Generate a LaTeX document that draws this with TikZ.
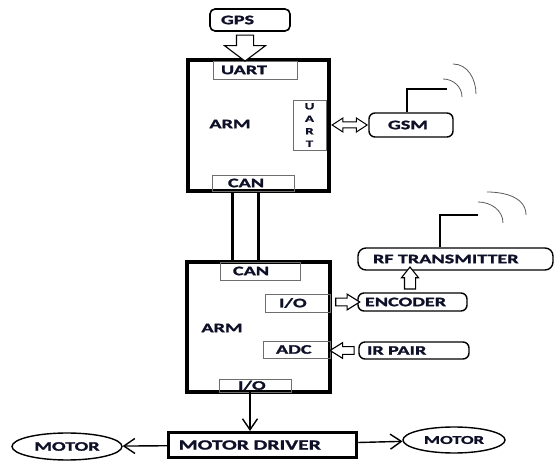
\documentclass[tikz,border=0pt]{standalone}
\usepackage{fontspec}
\setmainfont{Carlito}[FakeStretch=1.55,FakeBold=1.6]
\usetikzlibrary{arrows.meta,positioning,calc,shapes.geometric,shapes.arrows}
\definecolor{ArmInk}{RGB}{14,16,40}
\definecolor{PortGray}{RGB}{110,110,110}
\definecolor{WaveGray}{RGB}{90,90,90}

\begin{document}
\begin{tikzpicture}[x=1pt,y=-1pt,
  every node/.style={font=\fontsize{13}{15}\selectfont\bfseries,text=ArmInk},
  arm/.style={draw,line width=4pt,minimum width=141pt,minimum height=131pt},
  port/.style={draw=PortGray,line width=0.7pt,align=left,inner ysep=0pt},
  unit/.style={draw,line width=1.4pt,rounded corners=6pt,align=left,inner ysep=0pt},
  motor/.style={draw,ellipse,line width=1.4pt,inner sep=0pt},
  hollow/.style={draw,line width=1.1pt,fill=white,inner xsep=0pt},
  arrow/.style={-{Straight Barb[length=11pt,width=15pt]},line width=1.4pt},
  bus/.style={line width=3pt},
  ant/.style={line width=2pt},
  wave/.style={draw=WaveGray,line width=0.8pt}
]
\useasboundingbox (0,0) rectangle (555,462);
% upper controller
\node[arm] (arm1) at (258.5,125.5) {};
\node (arm1lbl) at (230,124) {ARM};
\node[port,minimum height=18pt,text width=68pt,inner xsep=8pt] (uart1) at (255,70) {UART};
\node[port,minimum height=16pt,text width=50pt,inner xsep=16pt] (can1) at (253,183) {CAN};
\node[port,align=center,minimum height=50pt,text width=33pt,inner xsep=0pt,
      font=\fontsize{9.5}{12.5}\selectfont\bfseries] (uart2) at (309.5,125) {U\\A\\R\\T};
\node[unit,minimum height=22pt,text width=58pt,inner xsep=11pt,line width=1.6pt,rounded corners=5pt] (gps) at (250,20) {GPS};
\node[unit,minimum height=24pt,text width=46pt,inner xsep=19pt] (gsm) at (411,125) {GSM};
% lower controller
\node[arm,minimum width=143pt,minimum height=130pt] (arm2) at (258.5,327) {};
\node (arm2lbl) at (222,328) {ARM};
\node[port,minimum height=18pt,text width=54pt,inner xsep=13pt] (can2) at (260,271) {CAN};
\node[port,minimum height=18pt,text width=37pt,inner xsep=14pt] (io1) at (297.5,303) {I/O};
\node[port,minimum height=17pt,text width=41pt,inner xsep=13pt] (adc) at (296.5,349.5) {ADC};
\node[port,minimum height=13pt,text width=34pt,inner xsep=19pt] (io2) at (255,385.5) {I/O};
\node[unit,minimum height=22pt,text width=165pt,inner xsep=15pt,rounded corners=8pt] (rf) at (455.5,259) {RF TRANSMITTER};
\node[unit,minimum height=18pt,text width=95pt,inner xsep=7pt] (encoder) at (412.5,302) {ENCODER};
\node[unit,minimum height=17pt,text width=94pt,inner xsep=8pt] (irpair) at (414,350.5) {IR PAIR};
% drive stage
\node[draw,line width=3pt,minimum height=25pt,text width=168pt,inner xsep=10pt,align=left,inner ysep=0pt,
      font=\fontsize{14}{16}\selectfont\bfseries] (driver) at (262.75,445) {MOTOR DRIVER};
\node[motor,minimum width=110pt,minimum height=27pt] (motorL) at (67,446.5) {MOTOR};
\node[motor,minimum width=102pt,minimum height=26pt,font=\fontsize{12}{13}\selectfont\bfseries] (motorR) at (454,440) {MOTOR};

% hollow arrows
\node[hollow,single arrow,rotate=-90,inner ysep=8pt,single arrow head extend=12pt,
      single arrow tip angle=106,minimum height=26pt] (gpsarr) at ($(gps.south)!.5!(gps.south |- arm1.north)+(-5,0)$) {};
\node[hollow,double arrow,inner ysep=2.5pt,double arrow head extend=4pt,double arrow tip angle=66,
      minimum height=35pt,line width=1pt] (gsmarr) at ($(arm1.east |- gsm.west)!.5!(gsm.west)$) {};
\node[hollow,single arrow,inner ysep=3.3pt,single arrow head extend=4pt,single arrow tip angle=64,
      minimum height=24pt] (encarr) at ($(arm2.east |- encoder.west)!.5!(encoder.west)$) {};
\node[hollow,single arrow,rotate=180,inner ysep=3.3pt,single arrow head extend=4pt,single arrow tip angle=64,
      minimum height=24pt] (irarr) at ($(arm2.east |- irpair.west)!.5!(irpair.west)$) {};
\node[hollow,single arrow,rotate=90,inner ysep=5pt,single arrow head extend=3pt,single arrow tip angle=77,
      minimum height=22pt] (rfarr) at ($(encoder.north)!.5!(encoder.north |- rf.south)+(-2.5,0)$) {};

% CAN bus
\foreach \dx in {-26.5,-0.5}
  \draw[bus] ([xshift=\dx pt]arm1.south) -- ([xshift=\dx pt]arm2.north);

\draw[arrow] ([xshift=-5pt]io2.south) -- ([xshift=-5pt]io2.south |- driver.north);
\draw[arrow] (driver) -- (motorL);
\draw[arrow] (driver) -- (motorR);

% antennas
\coordinate (gsmtip) at (447,89);
\coordinate (rftip) at (478,215);
\draw[ant] ([xshift=-4pt]gsm.north) |- (gsmtip);
\draw[ant,line width=2.5pt] ([xshift=-15.5pt]rf.north) |- (rftip);
\coordinate (gw1a) at (443,79); \coordinate (gw1b) at (462,97);
\coordinate (gw2a) at (453,64); \coordinate (gw2b) at (476,94);
\coordinate (rw1a) at (478,202); \coordinate (rw1b) at (503,223);
\coordinate (rw2a) at (487,192); \coordinate (rw2b) at (526,215);
\draw[wave] (gw1a) to[out=0,in=90] (gw1b);
\draw[wave] (gw2a) to[out=0,in=90] (gw2b);
\draw[wave] (rw1a) to[out=0,in=90] (rw1b);
\draw[wave] (rw2a) to[out=0,in=90] (rw2b);
\end{tikzpicture}
\end{document}
